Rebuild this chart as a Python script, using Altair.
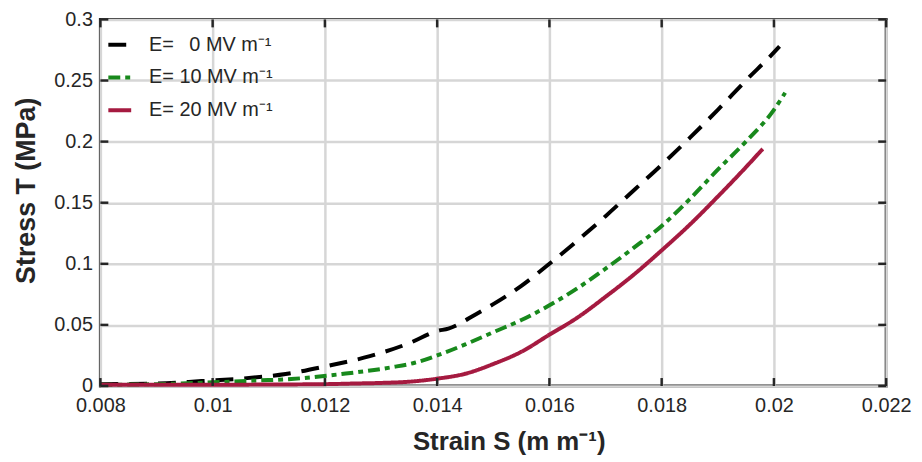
import altair as alt
import pandas as pd

# ---- data ----
series_names = ["E=\u2002 0 MV m\u207b\u00b9", "E= 10 MV m\u207b\u00b9", "E= 20 MV m\u207b\u00b9"]

x_e0 = [0.008, 0.009, 0.0098, 0.0105, 0.0113, 0.0120, 0.0128, 0.0135, 0.0140, 0.0142,
        0.0147, 0.0150, 0.0155, 0.0160, 0.0165, 0.0170, 0.0175, 0.0180, 0.0185, 0.0190,
        0.0195, 0.0200, 0.0201]
y_e0 = [0.0015, 0.0020, 0.0040, 0.0060, 0.0098, 0.0160, 0.0244, 0.0350, 0.0450, 0.0470,
        0.0590, 0.0670, 0.0820, 0.1000, 0.1190, 0.1390, 0.1600, 0.1810, 0.2030, 0.2260,
        0.2500, 0.2730, 0.2780]

x_e10 = [0.008, 0.009, 0.010, 0.0108, 0.0114, 0.0123, 0.0132, 0.0136, 0.0140, 0.0145,
         0.0150, 0.0155, 0.0160, 0.0165, 0.0170, 0.0175, 0.0180, 0.0185, 0.0190, 0.0195,
         0.0200, 0.0202]
y_e10 = [0.0010, 0.0015, 0.0030, 0.0045, 0.0057, 0.0098, 0.0154, 0.0190, 0.0250, 0.0340,
         0.0440, 0.0540, 0.0660, 0.0800, 0.0960, 0.1130, 0.1310, 0.1530, 0.1770, 0.2000,
         0.2260, 0.2400]

x_e20 = [0.008, 0.009, 0.010, 0.011, 0.012, 0.0125, 0.0130, 0.0135, 0.0140, 0.0145,
         0.0150, 0.0155, 0.0160, 0.0165, 0.0170, 0.0175, 0.0180, 0.0185, 0.0190, 0.0195,
         0.0198]
y_e20 = [0.0010, 0.0010, 0.0010, 0.0012, 0.0015, 0.0020, 0.0025, 0.0035, 0.0060, 0.0100,
         0.0180, 0.0280, 0.0420, 0.0560, 0.0730, 0.0910, 0.1110, 0.1320, 0.1550, 0.1790,
         0.1940]

x_ticks = [0.008, 0.010, 0.012, 0.014, 0.016, 0.018, 0.020, 0.022]
y_ticks = [0.0, 0.05, 0.10, 0.15, 0.20, 0.25, 0.30]

colors = ["#000000", "#18891c", "#a51a40"]
dashes = [[18, 11], [12, 5, 5, 5], [1, 0]]
widths = [4, 4, 3.5]

rows = []
for name, xs, ys in zip(series_names, [x_e0, x_e10, x_e20], [y_e0, y_e10, y_e20]):
    for i, (a, b) in enumerate(zip(xs, ys)):
        rows.append({"series": name, "x": a, "y": b, "i": i})
df = pd.DataFrame(rows)

W, H = 791, 369
FONT = "Liberation Sans"
DARK = "#262626"

xscale = alt.Scale(domain=[0.008, 0.022], nice=False, zero=False)
yscale = alt.Scale(domain=[0, 0.3], nice=False, zero=False)

x_axis = alt.Axis(
    values=x_ticks, format="~g", title="Strain S (m m\u207b\u00b9)",
    grid=True, ticks=False, domain=False,
    labelFontSize=20, labelPadding=10, labelColor=DARK, labelFont=FONT,
    labelFlush=False,
    titleFontSize=26, titleFont=FONT, titleFontWeight="bold", titleColor=DARK,
    titlePadding=13, titleX=411)
y_axis = alt.Axis(
    values=y_ticks, format="~g", title="Stress T (MPa)",
    grid=True, ticks=False, domain=False,
    labelFontSize=20, labelPadding=8, labelColor=DARK, labelFont=FONT,
    labelFlush=False,
    titleFontSize=27, titleFont=FONT, titleFontWeight="bold", titleColor=DARK,
    titlePadding=13, titleY=172)

lines = alt.Chart(df).mark_line(strokeCap="butt", strokeJoin="round",
                                interpolate="monotone").encode(
    x=alt.X("x:Q", scale=xscale, axis=x_axis),
    y=alt.Y("y:Q", scale=yscale, axis=y_axis),
    color=alt.Color("series:N", scale=alt.Scale(domain=series_names, range=colors),
                    legend=alt.Legend(title=None, orient="none", legendX=6, legendY=12,
                                      symbolType="stroke", symbolSize=529,
                                      symbolStrokeWidth=4, labelFontSize=20,
                                      labelFont=FONT, labelColor=DARK, labelOffset=16,
                                      rowPadding=9, padding=0)),
    strokeDash=alt.StrokeDash("series:N", scale=alt.Scale(domain=series_names, range=dashes),
                              legend=None),
    strokeWidth=alt.StrokeWidth("series:N", scale=alt.Scale(domain=series_names, range=widths),
                                legend=None),
    order="i:Q",
)

xt_df = pd.DataFrame({"x": x_ticks})
yt_df = pd.DataFrame({"y": y_ticks})
tick_style = dict(color=DARK, strokeWidth=2.5)

xt_bottom = alt.Chart(xt_df).mark_rule(**tick_style).encode(
    x=alt.X("x:Q", scale=xscale, axis=x_axis), y=alt.value(H), y2=alt.value(H - 8))
xt_top = alt.Chart(xt_df).mark_rule(**tick_style).encode(
    x=alt.X("x:Q", scale=xscale, axis=x_axis), y=alt.value(0), y2=alt.value(8))
yt_left = alt.Chart(yt_df).mark_rule(**tick_style).encode(
    y=alt.Y("y:Q", scale=yscale, axis=y_axis), x=alt.value(0), x2=alt.value(8))
yt_right = alt.Chart(yt_df).mark_rule(**tick_style).encode(
    y=alt.Y("y:Q", scale=yscale, axis=y_axis), x=alt.value(W - 8), x2=alt.value(W))

chart = alt.layer(lines, xt_bottom, xt_top, yt_left, yt_right).properties(
    width=W, height=H,
    autosize=alt.AutoSizeParams(type="none"),
    padding={"left": 93, "top": 10, "right": 28, "bottom": 72},
    background="white",
).configure_view(
    stroke=DARK, strokeWidth=3
).configure_axis(
    gridColor="#d6d6d6", gridWidth=2.5, gridOpacity=1
)

chart.save("out.html", embed_options={"renderer": "svg", "actions": False})
